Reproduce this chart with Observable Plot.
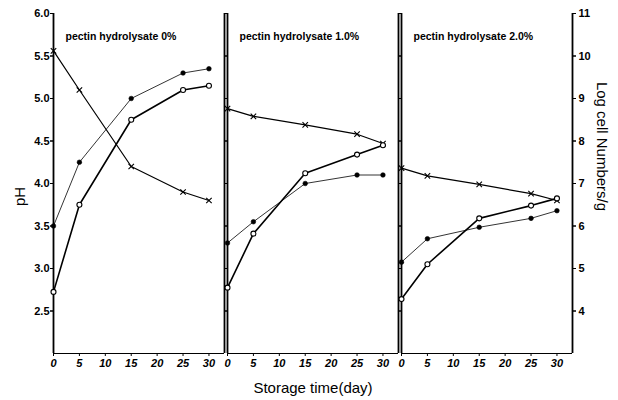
<!DOCTYPE html>
<html>
<head>
<meta charset="utf-8">
<script src="https://cdn.jsdelivr.net/npm/d3@7"></script>
<script src="https://cdn.jsdelivr.net/npm/@observablehq/plot@0.6"></script>
<style>
  html, body { margin: 0; padding: 0; background: #fff; }
</style>
</head>
<body>
<div id="chart"></div>
<script>
// ---- data ----
const days = [0, 5, 15, 25, 30];
const panels = ["pectin hydrolysate 0%", "pectin hydrolysate 1.0%", "pectin hydrolysate 2.0%"];
// pH series (× markers), left axis
const phValues = [
  [5.56, 5.10, 4.20, 3.90, 3.80],
  [4.88, 4.79, 4.69, 4.58, 4.47],
  [4.18, 4.09, 3.99, 3.88, 3.80]
];
// Log cell numbers/g, filled circles, right axis
const logFilled = [
  [6.00, 7.50, 9.00, 9.60, 9.70],
  [5.60, 6.10, 7.00, 7.20, 7.20],
  [5.15, 5.70, 5.97, 6.18, 6.36]
];
// Log cell numbers/g, open circles, right axis
const logOpen = [
  [4.45, 6.50, 8.50, 9.20, 9.30],
  [4.55, 5.82, 7.24, 7.68, 7.90],
  [4.28, 5.10, 6.18, 6.48, 6.65]
];
const xTicks = [0, 5, 10, 15, 20, 25, 30];
const phTicks = [2.5, 3.0, 3.5, 4.0, 4.5, 5.0, 5.5, 6.0];
const xLabel = "Storage time(day)";
const leftLabel = "pH";
const rightLabel = "Log cell Numbers/g";

const rows = [];
panels.forEach((p, i) => days.forEach((d, j) => rows.push({
  panel: p, day: d, ph: phValues[i][j], filled: logFilled[i][j], open: logOpen[i][j]
})));
// right axis (log) to left axis (pH) equivalence: log = 2*pH - 1
const toPh = v => (v + 1) / 2;

const font = "'Liberation Sans', Arial, sans-serif";

const chart = Plot.plot({
  width: 618,
  height: 400,
  marginLeft: 52,
  marginRight: 44,
  marginTop: 13,
  marginBottom: 47,
  style: { fontFamily: font, fontSize: "11px", background: "white", color: "black" },
  fx: { domain: panels, padding: 0.015, axis: null },
  x: { domain: [0, 33], axis: null },
  y: { domain: [2, 6], axis: null },
  marks: [
    // panel edges
    Plot.ruleX([0, 33], { stroke: "black", strokeWidth: 1.8 }),
    Plot.ruleY([2], { stroke: "black", strokeWidth: 1.2 }),
    // x axis in each panel
    Plot.axisX({ ticks: xTicks, tickSize: 3, tickPadding: 3, fontWeight: "bold", fontStyle: "italic", fontSize: 11, label: null }),
    // left pH axis (first panel)
    Plot.axisY({ anchor: "left", ticks: phTicks, tickSize: 3, tickPadding: 1, tickFormat: d => d.toFixed(1), fontWeight: "bold", fontSize: 11, label: null }),
    // tick marks on all panel edges
    Plot.axisY({ anchor: "left", facetAnchor: null, ticks: phTicks, tickSize: 3, tickFormat: () => "", label: null }),
    Plot.axisY({ anchor: "right", facetAnchor: null, ticks: phTicks, tickSize: 3, tickFormat: () => "", label: null }),
    // right log axis (last panel)
    Plot.axisY({ anchor: "right", ticks: phTicks, tickSize: 3, tickPadding: 3, tickFormat: d => String(Math.round(2 * d - 1)), fontWeight: "bold", fontSize: 11, label: null }),
    // series
    Plot.line(rows, { fx: "panel", x: "day", y: "ph", stroke: "black", strokeWidth: 1.2 }),
    Plot.line(rows, { fx: "panel", x: "day", y: d => toPh(d.filled), stroke: "black", strokeWidth: 0.8 }),
    Plot.line(rows, { fx: "panel", x: "day", y: d => toPh(d.open), stroke: "black", strokeWidth: 1.6 }),
    Plot.dot(rows, { fx: "panel", x: "day", y: "ph", symbol: "times", r: 2.6, stroke: "black", strokeWidth: 1.1 }),
    Plot.dot(rows, { fx: "panel", x: "day", y: d => toPh(d.filled), r: 2.3, fill: "black", stroke: "black", strokeWidth: 0.6 }),
    Plot.dot(rows, { fx: "panel", x: "day", y: d => toPh(d.open), r: 2.5, fill: "white", stroke: "black", strokeWidth: 1.1 }),
    // panel titles
    Plot.text(panels, { fx: d => d, text: d => d, frameAnchor: "top-left", dx: 12, dy: 19, textAnchor: "start", fontWeight: "bold", fontSize: 10.5 }),
    // axis labels
    Plot.text([panels[1]], { fx: d => d, text: () => xLabel, frameAnchor: "bottom", dy: 39, fontSize: 15 }),
    Plot.text([panels[0]], { fx: d => d, text: () => leftLabel, frameAnchor: "left", textAnchor: "middle", dx: -33, dy: 13, rotate: -90, fontSize: 15 }),
    Plot.text([panels[2]], { fx: d => d, text: () => rightLabel, frameAnchor: "right", textAnchor: "middle", dx: 29, dy: -37, rotate: 90, fontSize: 15 })
  ]
});
document.getElementById("chart").appendChild(chart);
</script>
</body>
</html>
